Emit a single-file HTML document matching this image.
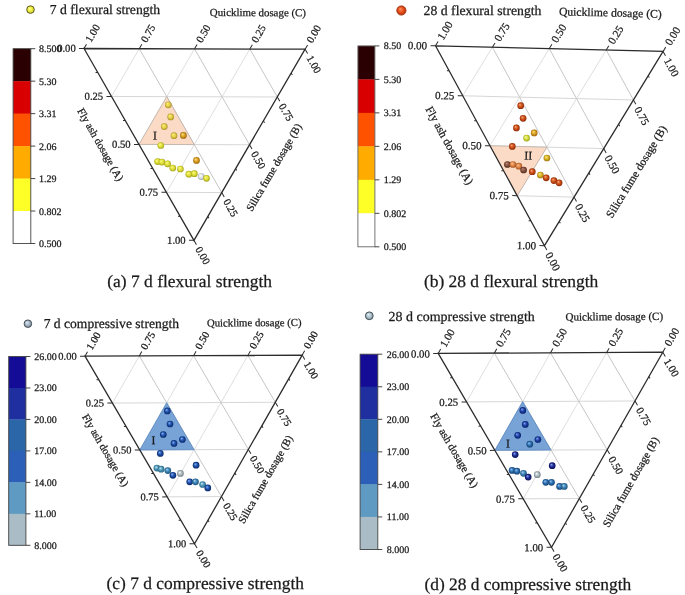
<!DOCTYPE html>
<html><head><meta charset="utf-8"><style>
html,body{margin:0;padding:0;background:#fff;}
svg{display:block;will-change:transform;filter:blur(0.35px);}
text{font-family:"Liberation Serif", serif;text-rendering:geometricPrecision;fill:#1a1a1a;stroke:#1a1a1a;stroke-width:0.25px;}
</style></head><body>
<svg width="685" height="595" viewBox="0 0 685 595">
<defs><radialGradient id="g_a_e4d04a" cx="0.5" cy="0.5" r="0.52" fx="0.36" fy="0.32"><stop offset="0" stop-color="#fff284"/><stop offset="0.22" stop-color="#f2e167"/><stop offset="0.55" stop-color="#e4d04a"/><stop offset="1" stop-color="#a88e22"/></radialGradient><radialGradient id="g_a_d8a020" cx="0.5" cy="0.5" r="0.52" fx="0.36" fy="0.32"><stop offset="0" stop-color="#ffe890"/><stop offset="0.22" stop-color="#ecc458"/><stop offset="0.55" stop-color="#d8a020"/><stop offset="1" stop-color="#98600a"/></radialGradient><radialGradient id="g_a_dfe03c" cx="0.5" cy="0.5" r="0.52" fx="0.36" fy="0.32"><stop offset="0" stop-color="#ffff88"/><stop offset="0.22" stop-color="#eff062"/><stop offset="0.55" stop-color="#dfe03c"/><stop offset="1" stop-color="#a2a014"/></radialGradient><radialGradient id="g_a_e0e4e6" cx="0.5" cy="0.5" r="0.52" fx="0.36" fy="0.32"><stop offset="0" stop-color="#ffffff"/><stop offset="0.22" stop-color="#f0f2f2"/><stop offset="0.55" stop-color="#e0e4e6"/><stop offset="1" stop-color="#9aa4a8"/></radialGradient><radialGradient id="lg_a" cx="0.5" cy="0.5" r="0.52" fx="0.36" fy="0.32"><stop offset="0" stop-color="#ffffa0"/><stop offset="0.22" stop-color="#f8f870"/><stop offset="0.55" stop-color="#f0f040"/><stop offset="1" stop-color="#c8c020"/></radialGradient><radialGradient id="g_b_cc4c16" cx="0.5" cy="0.5" r="0.52" fx="0.36" fy="0.32"><stop offset="0" stop-color="#ffb080"/><stop offset="0.22" stop-color="#e67e4b"/><stop offset="0.55" stop-color="#cc4c16"/><stop offset="1" stop-color="#882a08"/></radialGradient><radialGradient id="g_b_d4dc3c" cx="0.5" cy="0.5" r="0.52" fx="0.36" fy="0.32"><stop offset="0" stop-color="#ffffc0"/><stop offset="0.22" stop-color="#eaee7e"/><stop offset="0.55" stop-color="#d4dc3c"/><stop offset="1" stop-color="#98a018"/></radialGradient><radialGradient id="g_b_d8a020" cx="0.5" cy="0.5" r="0.52" fx="0.36" fy="0.32"><stop offset="0" stop-color="#ffe890"/><stop offset="0.22" stop-color="#ecc458"/><stop offset="0.55" stop-color="#d8a020"/><stop offset="1" stop-color="#98600a"/></radialGradient><radialGradient id="g_b_84503e" cx="0.5" cy="0.5" r="0.52" fx="0.36" fy="0.32"><stop offset="0" stop-color="#c09080"/><stop offset="0.22" stop-color="#a2705f"/><stop offset="0.55" stop-color="#84503e"/><stop offset="1" stop-color="#50281a"/></radialGradient><radialGradient id="g_b_e08444" cx="0.5" cy="0.5" r="0.52" fx="0.36" fy="0.32"><stop offset="0" stop-color="#ffc8a0"/><stop offset="0.22" stop-color="#f0a672"/><stop offset="0.55" stop-color="#e08444"/><stop offset="1" stop-color="#a05020"/></radialGradient><radialGradient id="g_b_d8b424" cx="0.5" cy="0.5" r="0.52" fx="0.36" fy="0.32"><stop offset="0" stop-color="#fff090"/><stop offset="0.22" stop-color="#ecd25a"/><stop offset="0.55" stop-color="#d8b424"/><stop offset="1" stop-color="#987010"/></radialGradient><radialGradient id="lg_b" cx="0.5" cy="0.5" r="0.52" fx="0.36" fy="0.32"><stop offset="0" stop-color="#ffa070"/><stop offset="0.22" stop-color="#f47846"/><stop offset="0.55" stop-color="#e8501c"/><stop offset="1" stop-color="#b03008"/></radialGradient><radialGradient id="g_c_1c4ca4" cx="0.5" cy="0.5" r="0.52" fx="0.36" fy="0.32"><stop offset="0" stop-color="#90c0ff"/><stop offset="0.22" stop-color="#5686d2"/><stop offset="0.55" stop-color="#1c4ca4"/><stop offset="1" stop-color="#0a2868"/></radialGradient><radialGradient id="g_c_4a92b4" cx="0.5" cy="0.5" r="0.52" fx="0.36" fy="0.32"><stop offset="0" stop-color="#d0f4ff"/><stop offset="0.22" stop-color="#8dc3da"/><stop offset="0.55" stop-color="#4a92b4"/><stop offset="1" stop-color="#2a6682"/></radialGradient><radialGradient id="g_c_3a80b0" cx="0.5" cy="0.5" r="0.52" fx="0.36" fy="0.32"><stop offset="0" stop-color="#b0e0ff"/><stop offset="0.22" stop-color="#75b0d8"/><stop offset="0.55" stop-color="#3a80b0"/><stop offset="1" stop-color="#1e5478"/></radialGradient><radialGradient id="g_c_b0bcc0" cx="0.5" cy="0.5" r="0.52" fx="0.36" fy="0.32"><stop offset="0" stop-color="#ffffff"/><stop offset="0.22" stop-color="#d8dee0"/><stop offset="0.55" stop-color="#b0bcc0"/><stop offset="1" stop-color="#6e7c84"/></radialGradient><radialGradient id="lg_c" cx="0.5" cy="0.5" r="0.52" fx="0.36" fy="0.32"><stop offset="0" stop-color="#e8f0f8"/><stop offset="0.22" stop-color="#c8d4e0"/><stop offset="0.55" stop-color="#a8b8c8"/><stop offset="1" stop-color="#708090"/></radialGradient><radialGradient id="g_d_1a3ea0" cx="0.5" cy="0.5" r="0.52" fx="0.36" fy="0.32"><stop offset="0" stop-color="#90b0ff"/><stop offset="0.22" stop-color="#5577d0"/><stop offset="0.55" stop-color="#1a3ea0"/><stop offset="1" stop-color="#0a2068"/></radialGradient><radialGradient id="g_d_2a6cac" cx="0.5" cy="0.5" r="0.52" fx="0.36" fy="0.32"><stop offset="0" stop-color="#a0d0ff"/><stop offset="0.22" stop-color="#659ed6"/><stop offset="0.55" stop-color="#2a6cac"/><stop offset="1" stop-color="#144070"/></radialGradient><radialGradient id="g_d_1a2a90" cx="0.5" cy="0.5" r="0.52" fx="0.36" fy="0.32"><stop offset="0" stop-color="#a0b0ff"/><stop offset="0.22" stop-color="#5d6dc8"/><stop offset="0.55" stop-color="#1a2a90"/><stop offset="1" stop-color="#0a1050"/></radialGradient><radialGradient id="g_d_3a80b0" cx="0.5" cy="0.5" r="0.52" fx="0.36" fy="0.32"><stop offset="0" stop-color="#b0e0ff"/><stop offset="0.22" stop-color="#75b0d8"/><stop offset="0.55" stop-color="#3a80b0"/><stop offset="1" stop-color="#1e5478"/></radialGradient><radialGradient id="g_d_b0bcc0" cx="0.5" cy="0.5" r="0.52" fx="0.36" fy="0.32"><stop offset="0" stop-color="#ffffff"/><stop offset="0.22" stop-color="#d8dee0"/><stop offset="0.55" stop-color="#b0bcc0"/><stop offset="1" stop-color="#6e7c84"/></radialGradient><radialGradient id="lg_d" cx="0.5" cy="0.5" r="0.52" fx="0.36" fy="0.32"><stop offset="0" stop-color="#f0f8ff"/><stop offset="0.22" stop-color="#d0dee6"/><stop offset="0.55" stop-color="#b0c4cc"/><stop offset="1" stop-color="#7890a0"/></radialGradient></defs>
<g transform="translate(84.00,48.50) rotate(0.181)"><path d="M27.64,47.87L193.46,47.87 M55.28,95.74L165.83,95.74 M82.91,143.61L138.19,143.61" stroke="#d2d2d2" stroke-width="0.9" fill="none"/><path d="M55.28,0.00L138.19,143.61 M110.55,0.00L165.83,95.74 M165.83,0.00L193.46,47.87" stroke="#b8b8b8" stroke-width="0.8" fill="none"/><path d="M165.83,0.00L82.91,143.61 M110.55,0.00L55.28,95.74 M55.28,0.00L27.64,47.87" stroke="#d6d6d6" stroke-width="0.8" fill="none"/><polygon points="82.91,47.87 55.28,95.74 110.55,95.74" fill="#fbdbc6" stroke="#bcb0a8" stroke-width="0.8"/><path d="M0.00,0.00L-5.00,0.00 M221.10,0.00L223.60,-4.33 M110.55,191.48L113.05,195.81 M13.82,23.93L11.62,23.93 M124.37,167.54L125.47,169.45 M27.64,47.87L22.64,47.87 M165.83,0.00L168.33,-4.33 M138.19,143.61L140.69,147.94 M41.46,71.80L39.26,71.80 M152.01,119.67L153.11,121.58 M55.28,95.74L50.28,95.74 M110.55,0.00L113.05,-4.33 M165.83,95.74L168.33,100.07 M69.09,119.67L66.89,119.67 M179.64,71.80L180.74,73.71 M82.91,143.61L77.91,143.61 M55.28,0.00L57.78,-4.33 M193.46,47.87L195.96,52.20 M96.73,167.54L94.53,167.54 M207.28,23.93L208.38,25.84 M110.55,191.48L105.55,191.48 M0.00,0.00L2.50,-4.33 M221.10,0.00L223.60,4.33" stroke="#2c2c2c" stroke-width="1.0" fill="none"/><polygon points="0,0 221.10,0 110.55,191.48" fill="none" stroke="#2c2c2c" stroke-width="1.3" stroke-linejoin="miter"/><text x="-8.30" y="0.00" font-size="10.6" text-anchor="end" dominant-baseline="central" dy="0.9">0.00</text><text transform="translate(225.25,-7.19) rotate(-60)" font-size="10.6" dominant-baseline="central" dy="0.9">0.00</text><text transform="translate(114.70,198.67) rotate(60)" font-size="10.6" dominant-baseline="central" dy="0.9">0.00</text><text x="19.34" y="47.87" font-size="10.6" text-anchor="end" dominant-baseline="central" dy="0.9">0.25</text><text transform="translate(169.98,-7.19) rotate(-60)" font-size="10.6" dominant-baseline="central" dy="0.9">0.25</text><text transform="translate(142.34,150.80) rotate(60)" font-size="10.6" dominant-baseline="central" dy="0.9">0.25</text><text x="46.98" y="95.74" font-size="10.6" text-anchor="end" dominant-baseline="central" dy="0.9">0.50</text><text transform="translate(114.70,-7.19) rotate(-60)" font-size="10.6" dominant-baseline="central" dy="0.9">0.50</text><text transform="translate(169.98,102.93) rotate(60)" font-size="10.6" dominant-baseline="central" dy="0.9">0.50</text><text x="74.61" y="143.61" font-size="10.6" text-anchor="end" dominant-baseline="central" dy="0.9">0.75</text><text transform="translate(59.43,-7.19) rotate(-60)" font-size="10.6" dominant-baseline="central" dy="0.9">0.75</text><text transform="translate(197.61,55.06) rotate(60)" font-size="10.6" dominant-baseline="central" dy="0.9">0.75</text><text x="102.25" y="191.48" font-size="10.6" text-anchor="end" dominant-baseline="central" dy="0.9">1.00</text><text transform="translate(4.15,-7.19) rotate(-60)" font-size="10.6" dominant-baseline="central" dy="0.9">1.00</text><text transform="translate(225.25,7.19) rotate(60)" font-size="10.6" dominant-baseline="central" dy="0.9">1.00</text><text transform="translate(16.30,96.25) rotate(60)" font-size="10.8" text-anchor="middle" dominant-baseline="central">Fly ash dosage (A)</text><text transform="translate(190.78,118.50) rotate(-60)" font-size="10.8" text-anchor="middle" dominant-baseline="central">Silica fume dosage (B)</text><text x="125.70" y="-32.90" font-size="10.8" textLength="96.2" lengthAdjust="spacingAndGlyphs">Quicklime dosage (C)</text><text x="71.17" y="86.68" font-size="11.8" text-anchor="middle" dominant-baseline="central">I</text></g><circle cx="168.30" cy="104.80" r="3.35" fill="url(#g_a_e4d04a)"/><circle cx="170.70" cy="116.90" r="3.35" fill="url(#g_a_e4d04a)"/><circle cx="164.30" cy="126.60" r="3.35" fill="url(#g_a_e4d04a)"/><circle cx="174.00" cy="135.70" r="3.35" fill="url(#g_a_e4d04a)"/><circle cx="183.40" cy="135.40" r="3.35" fill="url(#g_a_d8a020)"/><circle cx="160.80" cy="145.50" r="3.35" fill="url(#g_a_dfe03c)"/><circle cx="157.60" cy="161.60" r="3.35" fill="url(#g_a_dfe03c)"/><circle cx="161.90" cy="162.10" r="3.35" fill="url(#g_a_dfe03c)"/><circle cx="167.60" cy="163.80" r="3.35" fill="url(#g_a_dfe03c)"/><circle cx="172.80" cy="168.00" r="3.35" fill="url(#g_a_dfe03c)"/><circle cx="180.40" cy="169.00" r="3.35" fill="url(#g_a_dfe03c)"/><circle cx="196.50" cy="160.40" r="3.35" fill="url(#g_a_d8a020)"/><circle cx="188.90" cy="174.20" r="3.35" fill="url(#g_a_dfe03c)"/><circle cx="194.40" cy="173.70" r="3.35" fill="url(#g_a_dfe03c)"/><circle cx="201.20" cy="176.60" r="3.35" fill="url(#g_a_e0e4e6)"/><circle cx="206.50" cy="178.30" r="3.35" fill="url(#g_a_dfe03c)"/><rect x="13.1" y="48.70" width="17.70" height="32.77" fill="#2a0003"/><rect x="13.1" y="81.17" width="17.70" height="32.77" fill="#d80000"/><rect x="13.1" y="113.63" width="17.70" height="32.77" fill="#ff5200"/><rect x="13.1" y="146.10" width="17.70" height="32.77" fill="#ffab00"/><rect x="13.1" y="178.57" width="17.70" height="32.77" fill="#ffff28"/><rect x="13.1" y="211.03" width="17.70" height="32.77" fill="#ffffff"/><rect x="13.1" y="48.7" width="17.70" height="194.80" fill="none" stroke="#444" stroke-width="0.9"/><path d="M30.8,48.70h4.5" stroke="#333" stroke-width="0.9"/><text x="39.0" y="48.70" font-size="10" dominant-baseline="central" dy="1.0">8.500</text><path d="M30.8,81.17h4.5" stroke="#333" stroke-width="0.9"/><text x="39.0" y="81.17" font-size="10" dominant-baseline="central" dy="1.0">5.30</text><path d="M30.8,113.63h4.5" stroke="#333" stroke-width="0.9"/><text x="39.0" y="113.63" font-size="10" dominant-baseline="central" dy="1.0">3.31</text><path d="M30.8,146.10h4.5" stroke="#333" stroke-width="0.9"/><text x="39.0" y="146.10" font-size="10" dominant-baseline="central" dy="1.0">2.06</text><path d="M30.8,178.57h4.5" stroke="#333" stroke-width="0.9"/><text x="39.0" y="178.57" font-size="10" dominant-baseline="central" dy="1.0">1.29</text><path d="M30.8,211.03h4.5" stroke="#333" stroke-width="0.9"/><text x="39.0" y="211.03" font-size="10" dominant-baseline="central" dy="1.0">0.802</text><path d="M30.8,243.50h4.5" stroke="#333" stroke-width="0.9"/><text x="39.0" y="243.50" font-size="10" dominant-baseline="central" dy="1.0">0.500</text><circle cx="30.5" cy="9.6" r="3.8" fill="url(#lg_a)" stroke="#505020" stroke-width="0.9"/><text x="49.8" y="13.8" font-size="13.7" textLength="110.4" lengthAdjust="spacingAndGlyphs">7 d flexural strength</text><text x="107.3" y="286.9" font-size="17.4" textLength="164.7" lengthAdjust="spacingAndGlyphs">(a) 7 d flexural strength</text><g transform="translate(435.50,45.80) rotate(1.409)"><path d="M28.46,49.29L199.21,49.29 M56.92,98.58L170.75,98.58 M85.38,147.88L142.29,147.88" stroke="#d2d2d2" stroke-width="0.9" fill="none"/><path d="M56.92,0.00L142.29,147.88 M113.83,0.00L170.75,98.58 M170.75,0.00L199.21,49.29" stroke="#b8b8b8" stroke-width="0.8" fill="none"/><path d="M170.75,0.00L85.38,147.88 M113.83,0.00L56.92,98.58 M56.92,0.00L28.46,49.29" stroke="#d6d6d6" stroke-width="0.8" fill="none"/><polygon points="56.92,98.58 113.83,98.58 85.38,147.88" fill="#fbdbc6" stroke="#bcb0a8" stroke-width="0.8"/><path d="M0.00,0.00L-5.00,0.00 M227.67,0.00L230.17,-4.33 M113.83,197.17L116.33,201.50 M14.23,24.65L12.03,24.65 M128.06,172.52L129.16,174.43 M28.46,49.29L23.46,49.29 M170.75,0.00L173.25,-4.33 M142.29,147.88L144.79,152.21 M42.69,73.94L40.49,73.94 M156.52,123.23L157.62,125.13 M56.92,98.58L51.92,98.58 M113.83,0.00L116.33,-4.33 M170.75,98.58L173.25,102.91 M71.15,123.23L68.95,123.23 M184.98,73.94L186.08,75.84 M85.38,147.88L80.38,147.88 M56.92,0.00L59.42,-4.33 M199.21,49.29L201.71,53.62 M99.61,172.52L97.41,172.52 M213.44,24.65L214.54,26.55 M113.83,197.17L108.83,197.17 M0.00,0.00L2.50,-4.33 M227.67,0.00L230.17,4.33" stroke="#2c2c2c" stroke-width="1.0" fill="none"/><polygon points="0,0 227.67,0 113.83,197.17" fill="none" stroke="#2c2c2c" stroke-width="1.3" stroke-linejoin="miter"/><text x="-8.30" y="0.00" font-size="11.0" text-anchor="end" dominant-baseline="central" dy="0.9">0.00</text><text transform="translate(231.82,-7.19) rotate(-60)" font-size="11.0" dominant-baseline="central" dy="0.9">0.00</text><text transform="translate(117.98,204.36) rotate(60)" font-size="11.0" dominant-baseline="central" dy="0.9">0.00</text><text x="20.16" y="49.29" font-size="11.0" text-anchor="end" dominant-baseline="central" dy="0.9">0.25</text><text transform="translate(174.90,-7.19) rotate(-60)" font-size="11.0" dominant-baseline="central" dy="0.9">0.25</text><text transform="translate(146.44,155.06) rotate(60)" font-size="11.0" dominant-baseline="central" dy="0.9">0.25</text><text x="48.62" y="98.58" font-size="11.0" text-anchor="end" dominant-baseline="central" dy="0.9">0.50</text><text transform="translate(117.98,-7.19) rotate(-60)" font-size="11.0" dominant-baseline="central" dy="0.9">0.50</text><text transform="translate(174.90,105.77) rotate(60)" font-size="11.0" dominant-baseline="central" dy="0.9">0.50</text><text x="77.08" y="147.88" font-size="11.0" text-anchor="end" dominant-baseline="central" dy="0.9">0.75</text><text transform="translate(61.07,-7.19) rotate(-60)" font-size="11.0" dominant-baseline="central" dy="0.9">0.75</text><text transform="translate(203.36,56.48) rotate(60)" font-size="11.0" dominant-baseline="central" dy="0.9">0.75</text><text x="105.53" y="197.17" font-size="11.0" text-anchor="end" dominant-baseline="central" dy="0.9">1.00</text><text transform="translate(4.15,-7.19) rotate(-60)" font-size="11.0" dominant-baseline="central" dy="0.9">1.00</text><text transform="translate(231.82,7.19) rotate(60)" font-size="11.0" dominant-baseline="central" dy="0.9">1.00</text><text transform="translate(15.76,99.74) rotate(60)" font-size="11.5" text-anchor="middle" dominant-baseline="central">Fly ash dosage (A)</text><text transform="translate(204.65,121.30) rotate(-60)" font-size="11.5" text-anchor="middle" dominant-baseline="central">Silica fume dosage (B)</text><text x="122.61" y="-33.63" font-size="11.6" textLength="102.8" lengthAdjust="spacingAndGlyphs">Quicklime dosage (C)</text><text x="95.57" y="107.48" font-size="11.8" text-anchor="middle" dominant-baseline="central">II</text></g><circle cx="520.70" cy="105.70" r="3.35" fill="url(#g_b_cc4c16)"/><circle cx="523.10" cy="118.30" r="3.35" fill="url(#g_b_cc4c16)"/><circle cx="516.40" cy="127.90" r="3.35" fill="url(#g_b_cc4c16)"/><circle cx="526.60" cy="138.10" r="3.35" fill="url(#g_b_d4dc3c)"/><circle cx="534.20" cy="132.90" r="3.35" fill="url(#g_b_d8a020)"/><circle cx="512.30" cy="146.40" r="3.35" fill="url(#g_b_cc4c16)"/><circle cx="507.40" cy="164.50" r="3.35" fill="url(#g_b_84503e)"/><circle cx="512.90" cy="164.50" r="3.35" fill="url(#g_b_e08444)"/><circle cx="518.80" cy="166.20" r="3.35" fill="url(#g_b_e08444)"/><circle cx="523.60" cy="170.00" r="3.35" fill="url(#g_b_84503e)"/><circle cx="532.30" cy="171.70" r="3.35" fill="url(#g_b_cc4c16)"/><circle cx="546.90" cy="158.00" r="3.35" fill="url(#g_b_d8b424)"/><circle cx="540.40" cy="175.00" r="3.35" fill="url(#g_b_d8b424)"/><circle cx="546.20" cy="177.80" r="3.35" fill="url(#g_b_cc4c16)"/><circle cx="553.90" cy="180.60" r="3.35" fill="url(#g_b_cc4c16)"/><circle cx="559.10" cy="182.80" r="3.35" fill="url(#g_b_cc4c16)"/><rect x="357.9" y="45.90" width="17.00" height="33.78" fill="#2a0003"/><rect x="357.9" y="79.38" width="17.00" height="33.78" fill="#d80000"/><rect x="357.9" y="112.87" width="17.00" height="33.78" fill="#ff5200"/><rect x="357.9" y="146.35" width="17.00" height="33.78" fill="#ffab00"/><rect x="357.9" y="179.83" width="17.00" height="33.78" fill="#ffff28"/><rect x="357.9" y="213.32" width="17.00" height="33.78" fill="#ffffff"/><rect x="357.9" y="45.9" width="17.00" height="200.90" fill="none" stroke="#666" stroke-width="0.9"/><path d="M374.9,45.90h4.5" stroke="#333" stroke-width="0.9"/><text x="383.7" y="45.90" font-size="10" dominant-baseline="central" dy="1.0">8.50</text><path d="M374.9,79.38h4.5" stroke="#333" stroke-width="0.9"/><text x="383.7" y="79.38" font-size="10" dominant-baseline="central" dy="1.0">5.30</text><path d="M374.9,112.87h4.5" stroke="#333" stroke-width="0.9"/><text x="383.7" y="112.87" font-size="10" dominant-baseline="central" dy="1.0">3.31</text><path d="M374.9,146.35h4.5" stroke="#333" stroke-width="0.9"/><text x="383.7" y="146.35" font-size="10" dominant-baseline="central" dy="1.0">2.06</text><path d="M374.9,179.83h4.5" stroke="#333" stroke-width="0.9"/><text x="383.7" y="179.83" font-size="10" dominant-baseline="central" dy="1.0">1.29</text><path d="M374.9,213.32h4.5" stroke="#333" stroke-width="0.9"/><text x="383.7" y="213.32" font-size="10" dominant-baseline="central" dy="1.0">0.802</text><path d="M374.9,246.80h4.5" stroke="#333" stroke-width="0.9"/><text x="383.7" y="246.80" font-size="10" dominant-baseline="central" dy="1.0">0.500</text><circle cx="401.4" cy="10.5" r="4.6" fill="url(#lg_b)" stroke="#a03010" stroke-width="0.9"/><text x="423.6" y="14.9" font-size="13.7" textLength="117.9" lengthAdjust="spacingAndGlyphs">28 d flexural strength</text><text x="423.9" y="287.3" font-size="17.4" textLength="174.3" lengthAdjust="spacingAndGlyphs">(b) 28 d flexural strength</text><g transform="translate(85.00,356.20) rotate(-0.290)"><path d="M27.15,47.03L190.05,47.03 M54.30,94.05L162.90,94.05 M81.45,141.08L135.75,141.08" stroke="#d2d2d2" stroke-width="0.9" fill="none"/><path d="M54.30,0.00L135.75,141.08 M108.60,0.00L162.90,94.05 M162.90,0.00L190.05,47.03" stroke="#b8b8b8" stroke-width="0.8" fill="none"/><path d="M162.90,0.00L81.45,141.08 M108.60,0.00L54.30,94.05 M54.30,0.00L27.15,47.03" stroke="#d6d6d6" stroke-width="0.8" fill="none"/><polygon points="81.45,47.03 54.30,94.05 108.60,94.05" fill="#77a3d7" stroke="#5a88c0" stroke-width="0.8"/><path d="M0.00,0.00L-5.00,0.00 M217.20,0.00L219.70,-4.33 M108.60,188.10L111.10,192.43 M13.58,23.51L11.38,23.51 M122.18,164.59L123.28,166.50 M27.15,47.03L22.15,47.03 M162.90,0.00L165.40,-4.33 M135.75,141.08L138.25,145.41 M40.73,70.54L38.53,70.54 M149.33,117.56L150.43,119.47 M54.30,94.05L49.30,94.05 M108.60,0.00L111.10,-4.33 M162.90,94.05L165.40,98.38 M67.88,117.56L65.68,117.56 M176.48,70.54L177.58,72.44 M81.45,141.08L76.45,141.08 M54.30,0.00L56.80,-4.33 M190.05,47.03L192.55,51.36 M95.03,164.59L92.83,164.59 M203.63,23.51L204.73,25.42 M108.60,188.10L103.60,188.10 M0.00,0.00L2.50,-4.33 M217.20,0.00L219.70,4.33" stroke="#2c2c2c" stroke-width="1.0" fill="none"/><polygon points="0,0 217.20,0 108.60,188.10" fill="none" stroke="#2c2c2c" stroke-width="1.3" stroke-linejoin="miter"/><text x="-8.30" y="0.00" font-size="10.5" text-anchor="end" dominant-baseline="central" dy="0.9">0.00</text><text transform="translate(221.35,-7.19) rotate(-60)" font-size="10.5" dominant-baseline="central" dy="0.9">0.00</text><text transform="translate(112.75,195.29) rotate(60)" font-size="10.5" dominant-baseline="central" dy="0.9">0.00</text><text x="18.85" y="47.03" font-size="10.5" text-anchor="end" dominant-baseline="central" dy="0.9">0.25</text><text transform="translate(167.05,-7.19) rotate(-60)" font-size="10.5" dominant-baseline="central" dy="0.9">0.25</text><text transform="translate(139.90,148.27) rotate(60)" font-size="10.5" dominant-baseline="central" dy="0.9">0.25</text><text x="46.00" y="94.05" font-size="10.5" text-anchor="end" dominant-baseline="central" dy="0.9">0.50</text><text transform="translate(112.75,-7.19) rotate(-60)" font-size="10.5" dominant-baseline="central" dy="0.9">0.50</text><text transform="translate(167.05,101.24) rotate(60)" font-size="10.5" dominant-baseline="central" dy="0.9">0.50</text><text x="73.15" y="141.08" font-size="10.5" text-anchor="end" dominant-baseline="central" dy="0.9">0.75</text><text transform="translate(58.45,-7.19) rotate(-60)" font-size="10.5" dominant-baseline="central" dy="0.9">0.75</text><text transform="translate(194.20,54.21) rotate(60)" font-size="10.5" dominant-baseline="central" dy="0.9">0.75</text><text x="100.30" y="188.10" font-size="10.5" text-anchor="end" dominant-baseline="central" dy="0.9">1.00</text><text transform="translate(4.15,-7.19) rotate(-60)" font-size="10.5" dominant-baseline="central" dy="0.9">1.00</text><text transform="translate(221.35,7.19) rotate(60)" font-size="10.5" dominant-baseline="central" dy="0.9">1.00</text><text transform="translate(19.52,94.40) rotate(60)" font-size="10.8" text-anchor="middle" dominant-baseline="central">Fly ash dosage (A)</text><text transform="translate(180.27,124.31) rotate(-60)" font-size="10.8" text-anchor="middle" dominant-baseline="central">Silica fume dosage (B)</text><text x="122.15" y="-29.08" font-size="10.7" textLength="94.6" lengthAdjust="spacingAndGlyphs">Quicklime dosage (C)</text><text x="68.07" y="84.45" font-size="11.8" text-anchor="middle" dominant-baseline="central">I</text></g><circle cx="167.30" cy="410.90" r="3.35" fill="url(#g_c_1c4ca4)"/><circle cx="170.00" cy="424.00" r="3.35" fill="url(#g_c_1c4ca4)"/><circle cx="163.30" cy="434.50" r="3.35" fill="url(#g_c_1c4ca4)"/><circle cx="174.00" cy="443.40" r="3.35" fill="url(#g_c_1c4ca4)"/><circle cx="182.40" cy="439.50" r="3.35" fill="url(#g_c_1c4ca4)"/><circle cx="160.30" cy="453.40" r="3.35" fill="url(#g_c_1c4ca4)"/><circle cx="156.90" cy="468.10" r="3.35" fill="url(#g_c_4a92b4)"/><circle cx="161.10" cy="469.20" r="3.35" fill="url(#g_c_4a92b4)"/><circle cx="167.80" cy="470.60" r="3.35" fill="url(#g_c_3a80b0)"/><circle cx="172.90" cy="475.30" r="3.35" fill="url(#g_c_1c4ca4)"/><circle cx="180.40" cy="473.40" r="3.35" fill="url(#g_c_b0bcc0)"/><circle cx="196.10" cy="465.20" r="3.35" fill="url(#g_c_1c4ca4)"/><circle cx="189.70" cy="481.80" r="3.35" fill="url(#g_c_1c4ca4)"/><circle cx="195.50" cy="481.80" r="3.35" fill="url(#g_c_3a80b0)"/><circle cx="202.60" cy="484.50" r="3.35" fill="url(#g_c_4a92b4)"/><circle cx="207.80" cy="487.90" r="3.35" fill="url(#g_c_1c4ca4)"/><rect x="8.7" y="356.50" width="17.20" height="31.77" fill="#140c96"/><rect x="8.7" y="387.97" width="17.20" height="31.77" fill="#1f2fa0"/><rect x="8.7" y="419.43" width="17.20" height="31.77" fill="#2a66a8"/><rect x="8.7" y="450.90" width="17.20" height="31.77" fill="#2c5fb8"/><rect x="8.7" y="482.37" width="17.20" height="31.77" fill="#5e9ac2"/><rect x="8.7" y="513.83" width="17.20" height="31.77" fill="#aabdc6"/><rect x="8.7" y="356.5" width="17.20" height="188.80" fill="none" stroke="#444" stroke-width="0.9"/><path d="M25.9,356.50h4.5" stroke="#333" stroke-width="0.9"/><text x="34.2" y="356.50" font-size="10" dominant-baseline="central" dy="1.0">26.00</text><path d="M25.9,387.97h4.5" stroke="#333" stroke-width="0.9"/><text x="34.2" y="387.97" font-size="10" dominant-baseline="central" dy="1.0">23.00</text><path d="M25.9,419.43h4.5" stroke="#333" stroke-width="0.9"/><text x="34.2" y="419.43" font-size="10" dominant-baseline="central" dy="1.0">20.00</text><path d="M25.9,450.90h4.5" stroke="#333" stroke-width="0.9"/><text x="34.2" y="450.90" font-size="10" dominant-baseline="central" dy="1.0">17.00</text><path d="M25.9,482.37h4.5" stroke="#333" stroke-width="0.9"/><text x="34.2" y="482.37" font-size="10" dominant-baseline="central" dy="1.0">14.00</text><path d="M25.9,513.83h4.5" stroke="#333" stroke-width="0.9"/><text x="34.2" y="513.83" font-size="10" dominant-baseline="central" dy="1.0">11.00</text><path d="M25.9,545.30h4.5" stroke="#333" stroke-width="0.9"/><text x="34.2" y="545.30" font-size="10" dominant-baseline="central" dy="1.0">8.000</text><circle cx="27.9" cy="323.7" r="3.8" fill="url(#lg_c)" stroke="#404850" stroke-width="0.9"/><text x="43.7" y="328.4" font-size="13.6" textLength="135.4" lengthAdjust="spacingAndGlyphs">7 d compressive strength</text><text x="106.5" y="588.7" font-size="17.4" textLength="197.5" lengthAdjust="spacingAndGlyphs">(c) 7 d compressive strength</text><g transform="translate(438.20,353.40) rotate(-0.306)"><path d="M28.08,48.63L196.53,48.63 M56.15,97.26L168.45,97.26 M84.23,145.88L140.38,145.88" stroke="#d2d2d2" stroke-width="0.9" fill="none"/><path d="M56.15,0.00L140.38,145.88 M112.30,0.00L168.45,97.26 M168.45,0.00L196.53,48.63" stroke="#b8b8b8" stroke-width="0.8" fill="none"/><path d="M168.45,0.00L84.23,145.88 M112.30,0.00L56.15,97.26 M56.15,0.00L28.08,48.63" stroke="#d6d6d6" stroke-width="0.8" fill="none"/><polygon points="84.23,48.63 56.15,97.26 112.30,97.26" fill="#77a3d7" stroke="#5a88c0" stroke-width="0.8"/><path d="M0.00,0.00L-5.00,0.00 M224.60,0.00L227.10,-4.33 M112.30,194.51L114.80,198.84 M14.04,24.31L11.84,24.31 M126.34,170.20L127.44,172.10 M28.08,48.63L23.08,48.63 M168.45,0.00L170.95,-4.33 M140.38,145.88L142.88,150.21 M42.11,72.94L39.91,72.94 M154.41,121.57L155.51,123.48 M56.15,97.26L51.15,97.26 M112.30,0.00L114.80,-4.33 M168.45,97.26L170.95,101.59 M70.19,121.57L67.99,121.57 M182.49,72.94L183.59,74.85 M84.23,145.88L79.23,145.88 M56.15,0.00L58.65,-4.33 M196.53,48.63L199.03,52.96 M98.26,170.20L96.06,170.20 M210.57,24.31L211.67,26.22 M112.30,194.51L107.30,194.51 M0.00,0.00L2.50,-4.33 M224.60,0.00L227.10,4.33" stroke="#2c2c2c" stroke-width="1.0" fill="none"/><polygon points="0,0 224.60,0 112.30,194.51" fill="none" stroke="#2c2c2c" stroke-width="1.3" stroke-linejoin="miter"/><text x="-8.30" y="0.00" font-size="10.8" text-anchor="end" dominant-baseline="central" dy="0.9">0.00</text><text transform="translate(228.75,-7.19) rotate(-60)" font-size="10.8" dominant-baseline="central" dy="0.9">0.00</text><text transform="translate(116.45,201.70) rotate(60)" font-size="10.8" dominant-baseline="central" dy="0.9">0.00</text><text x="19.78" y="48.63" font-size="10.8" text-anchor="end" dominant-baseline="central" dy="0.9">0.25</text><text transform="translate(172.60,-7.19) rotate(-60)" font-size="10.8" dominant-baseline="central" dy="0.9">0.25</text><text transform="translate(144.53,153.07) rotate(60)" font-size="10.8" dominant-baseline="central" dy="0.9">0.25</text><text x="47.85" y="97.26" font-size="10.8" text-anchor="end" dominant-baseline="central" dy="0.9">0.50</text><text transform="translate(116.45,-7.19) rotate(-60)" font-size="10.8" dominant-baseline="central" dy="0.9">0.50</text><text transform="translate(172.60,104.44) rotate(60)" font-size="10.8" dominant-baseline="central" dy="0.9">0.50</text><text x="75.93" y="145.88" font-size="10.8" text-anchor="end" dominant-baseline="central" dy="0.9">0.75</text><text transform="translate(60.30,-7.19) rotate(-60)" font-size="10.8" dominant-baseline="central" dy="0.9">0.75</text><text transform="translate(200.68,55.82) rotate(60)" font-size="10.8" dominant-baseline="central" dy="0.9">0.75</text><text x="104.00" y="194.51" font-size="10.8" text-anchor="end" dominant-baseline="central" dy="0.9">1.00</text><text transform="translate(4.15,-7.19) rotate(-60)" font-size="10.8" dominant-baseline="central" dy="0.9">1.00</text><text transform="translate(228.75,7.19) rotate(60)" font-size="10.8" dominant-baseline="central" dy="0.9">1.00</text><text transform="translate(14.98,97.48) rotate(60)" font-size="11.1" text-anchor="middle" dominant-baseline="central">Fly ash dosage (A)</text><text transform="translate(192.51,129.93) rotate(-60)" font-size="11.1" text-anchor="middle" dominant-baseline="central">Silica fume dosage (B)</text><text x="127.47" y="-32.22" font-size="11.1" textLength="97.7" lengthAdjust="spacingAndGlyphs">Quicklime dosage (C)</text><text x="69.32" y="90.37" font-size="11.8" text-anchor="middle" dominant-baseline="central">I</text></g><circle cx="522.80" cy="410.40" r="3.35" fill="url(#g_d_1a3ea0)"/><circle cx="525.30" cy="424.40" r="3.35" fill="url(#g_d_1a3ea0)"/><circle cx="517.70" cy="435.30" r="3.35" fill="url(#g_d_1a3ea0)"/><circle cx="529.80" cy="444.20" r="3.35" fill="url(#g_d_2a6cac)"/><circle cx="537.90" cy="439.50" r="3.35" fill="url(#g_d_1a3ea0)"/><circle cx="515.20" cy="454.60" r="3.35" fill="url(#g_d_1a2a90)"/><circle cx="512.10" cy="470.40" r="3.35" fill="url(#g_d_2a6cac)"/><circle cx="516.90" cy="471.20" r="3.35" fill="url(#g_d_2a6cac)"/><circle cx="523.50" cy="473.30" r="3.35" fill="url(#g_d_3a80b0)"/><circle cx="528.20" cy="477.10" r="3.35" fill="url(#g_d_1a2a90)"/><circle cx="537.30" cy="474.70" r="3.35" fill="url(#g_d_b0bcc0)"/><circle cx="552.20" cy="465.70" r="3.35" fill="url(#g_d_1a2a90)"/><circle cx="545.80" cy="482.30" r="3.35" fill="url(#g_d_2a6cac)"/><circle cx="551.50" cy="482.30" r="3.35" fill="url(#g_d_2a6cac)"/><circle cx="559.60" cy="486.40" r="3.35" fill="url(#g_d_2a6cac)"/><circle cx="564.30" cy="486.40" r="3.35" fill="url(#g_d_3a80b0)"/><rect x="360.1" y="354.20" width="17.70" height="32.85" fill="#140c96"/><rect x="360.1" y="386.75" width="17.70" height="32.85" fill="#1f2fa0"/><rect x="360.1" y="419.30" width="17.70" height="32.85" fill="#2a66a8"/><rect x="360.1" y="451.85" width="17.70" height="32.85" fill="#2c5fb8"/><rect x="360.1" y="484.40" width="17.70" height="32.85" fill="#5e9ac2"/><rect x="360.1" y="516.95" width="17.70" height="32.85" fill="#aabdc6"/><rect x="360.1" y="354.2" width="17.70" height="195.30" fill="none" stroke="#444" stroke-width="0.9"/><path d="M377.8,354.20h4.5" stroke="#333" stroke-width="0.9"/><text x="386.8" y="354.20" font-size="10" dominant-baseline="central" dy="1.0">26.00</text><path d="M377.8,386.75h4.5" stroke="#333" stroke-width="0.9"/><text x="386.8" y="386.75" font-size="10" dominant-baseline="central" dy="1.0">23.00</text><path d="M377.8,419.30h4.5" stroke="#333" stroke-width="0.9"/><text x="386.8" y="419.30" font-size="10" dominant-baseline="central" dy="1.0">20.00</text><path d="M377.8,451.85h4.5" stroke="#333" stroke-width="0.9"/><text x="386.8" y="451.85" font-size="10" dominant-baseline="central" dy="1.0">17.00</text><path d="M377.8,484.40h4.5" stroke="#333" stroke-width="0.9"/><text x="386.8" y="484.40" font-size="10" dominant-baseline="central" dy="1.0">14.00</text><path d="M377.8,516.95h4.5" stroke="#333" stroke-width="0.9"/><text x="386.8" y="516.95" font-size="10" dominant-baseline="central" dy="1.0">11.00</text><path d="M377.8,549.50h4.5" stroke="#333" stroke-width="0.9"/><text x="386.8" y="549.50" font-size="10" dominant-baseline="central" dy="1.0">8.000</text><circle cx="369.3" cy="315.8" r="3.9" fill="url(#lg_d)" stroke="#404850" stroke-width="0.9"/><text x="388.6" y="320.5" font-size="13.8" textLength="146.2" lengthAdjust="spacingAndGlyphs">28 d compressive strength</text><text x="424.4" y="589.5" font-size="17.4" textLength="206.9" lengthAdjust="spacingAndGlyphs">(d) 28 d compressive strength</text>
</svg></body></html>
